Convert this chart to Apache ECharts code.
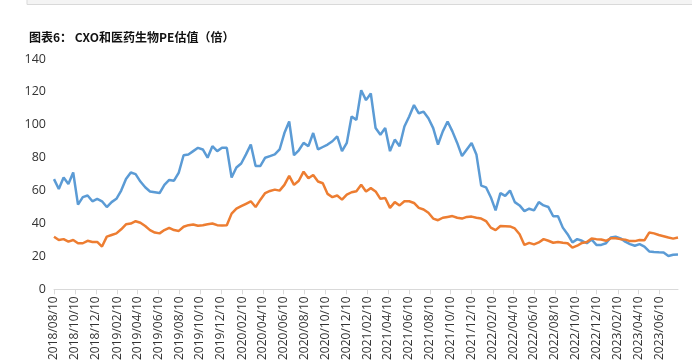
<!DOCTYPE html>
<html><head><meta charset="utf-8">
<script src="https://cdn.jsdelivr.net/npm/echarts@6/dist/echarts.min.js"></script>
<style>html,body{margin:0;padding:0;background:#fff}#c{width:692px;height:363px}</style>
</head><body><div id="c"></div>
<script>
// ---- data (bi-weekly samples) ----
const startDate = '2018-08-10';
const stepDays = 14;
const cxo = [
  67, 61, 68, 64, 71, 51.5, 56, 57, 53.5, 55,
  53.5, 50, 53, 55, 60, 67, 71, 70, 65.5, 62,
  59.5, 59, 58.5, 63.5, 66.5, 66, 71, 81.5, 82, 84,
  86, 85, 80,
  87, 84, 86, 86, 68, 74, 76.5, 82, 88, 75,
  75, 80, 81, 82, 85, 95, 102, 81.5, 84.5, 89,
  87, 95, 85, 86.5, 88, 90, 93, 84, 89, 105,
  103, 121,
  115, 119, 98, 94, 98, 84, 91, 87, 99, 105,
  112, 107, 108, 104, 98, 88, 96, 102, 96, 89,
  81, 85, 89, 82, 63, 62, 56, 48, 58.5, 56.8,
  60, 53,
  51, 47.5, 49, 48, 53, 51, 50, 44.4, 44.4, 37.5,
  33.5, 28.5, 30.5, 29.5, 28, 30.3, 27, 27, 28, 31.5,
  32, 31, 29, 27.5, 26.5, 27.5, 26, 23, 22.7, 22.5,
  22.4, 20.3, 21, 21.2
];
const pharma = [
  32, 30, 30.5, 29, 30, 28, 28, 29.5, 28.8, 28.8,
  26, 32, 33, 34, 36.5, 39.5, 40, 41.4, 40.5, 38.5,
  36, 34.5, 34, 36, 37.4, 36, 35.5, 38, 39, 39.4,
  38.6, 39, 39.6,
  40, 39, 38.8, 39, 46, 49, 50.5, 52, 53.5, 50,
  54.5, 58.5, 59.8, 60.6, 60, 63.5, 69, 63.5, 66, 71.5,
  67.5, 69.5, 65.5, 64.5, 58, 56, 57, 54.5, 57.5, 59,
  59.6, 63.5,
  59.5, 61.5, 59.5, 55, 55.5, 49.5, 53, 51, 53.5, 53.5,
  52.5, 49.5, 48.5, 46.5, 43, 42, 43.5, 44, 44.5, 43.5,
  43, 44, 44.2, 43.5, 43, 41.5, 37.5, 36, 38.5, 38.4,
  38.2, 37,
  33.5, 27, 28.2, 27.3, 28.5, 30.5, 29.5, 28.3, 28.8, 28.3,
  28, 25.3, 26.5, 28.2, 28.8, 30.9, 30.5, 30.3, 29.5, 31,
  31, 30.5, 30.2, 29.3, 29.3, 30, 29.8, 34.5, 34, 33,
  32.3, 31.5, 30.8, 31.5
];
const tickLabels = [
  '2018/08/10','2018/10/10','2018/12/10','2019/02/10','2019/04/10','2019/06/10',
  '2019/08/10','2019/10/10','2019/12/10','2020/02/10','2020/04/10','2020/06/10',
  '2020/08/10','2020/10/10','2020/12/10','2021/02/10','2021/04/10','2021/06/10',
  '2021/08/10','2021/10/10','2021/12/10','2022/02/10','2022/04/10','2022/06/10',
  '2022/08/10','2022/10/10','2022/12/10','2023/02/10','2023/04/10','2023/06/10'
];
const seriesNames = ['CXO', '医药生物'];
const titleText = '图表6： CXO和医药生物PE估值（倍）';

// ---- build ----
const DAY = 86400000;
const toUTC = s => Date.parse(s.replace(/\//g, '-') + 'T00:00:00Z');
const t0 = toUTC(startDate);
const dayOf = s => Math.round((toUTC(s) - t0) / DAY);
const xs = cxo.map((_, i) => i * stepDays);
const tickDays = tickLabels.map(dayOf);
const labelMap = {};
tickLabels.forEach((l, i) => { labelMap[tickDays[i]] = l; });
const lastDay = xs[xs.length - 1];

const font = '"Open Sans", "Noto Sans CJK SC", sans-serif';
const chart = echarts.init(document.getElementById('c'), null, { renderer: 'canvas' });
chart.setOption({
  animation: false,
  backgroundColor: '#fff',
  graphic: [{
    type: 'rect', z: -1,
    shape: { x: 27, y: -6, width: 700, height: 10.5 },
    style: { fill: '#f4f4f4', stroke: '#d9d9d9', lineWidth: 1 }
  }],
  title: {
    text: titleText, left: 24, top: 26,
    textStyle: { fontSize: 12, fontWeight: 'bold', color: '#111', fontFamily: '"Noto Sans CJK SC", sans-serif' }
  },
  grid: { left: 54, right: 14, top: 59, bottom: 73 },
  xAxis: {
    type: 'value', min: 0, max: lastDay,
    axisLine: { show: true, lineStyle: { color: '#d9d9d9', width: 1 } },
    axisTick: { show: true, customValues: tickDays, length: 5, lineStyle: { color: '#d9d9d9' } },
    splitLine: { show: false },
    axisLabel: {
      customValues: tickDays, rotate: 90, margin: 7,
      fontSize: 12, color: '#333', fontFamily: font,
      formatter: v => labelMap[v] || ''
    }
  },
  yAxis: {
    type: 'value', min: 0, max: 140, interval: 20,
    axisLine: { show: false }, axisTick: { show: false }, splitLine: { show: false },
    axisLabel: { fontSize: 12.5, color: '#333', margin: 8, fontFamily: font }
  },
  series: [
    { name: seriesNames[0], type: 'line', showSymbol: false, symbol: 'none',
      lineStyle: { color: '#5B9BD5', width: 2.5 }, itemStyle: { color: '#5B9BD5' },
      data: xs.map((x, i) => [x, cxo[i]]) },
    { name: seriesNames[1], type: 'line', showSymbol: false, symbol: 'none',
      lineStyle: { color: '#ED7D31', width: 2.5 }, itemStyle: { color: '#ED7D31' },
      data: xs.map((x, i) => [x, pharma[i]]) }
  ]
});
</script></body></html>
